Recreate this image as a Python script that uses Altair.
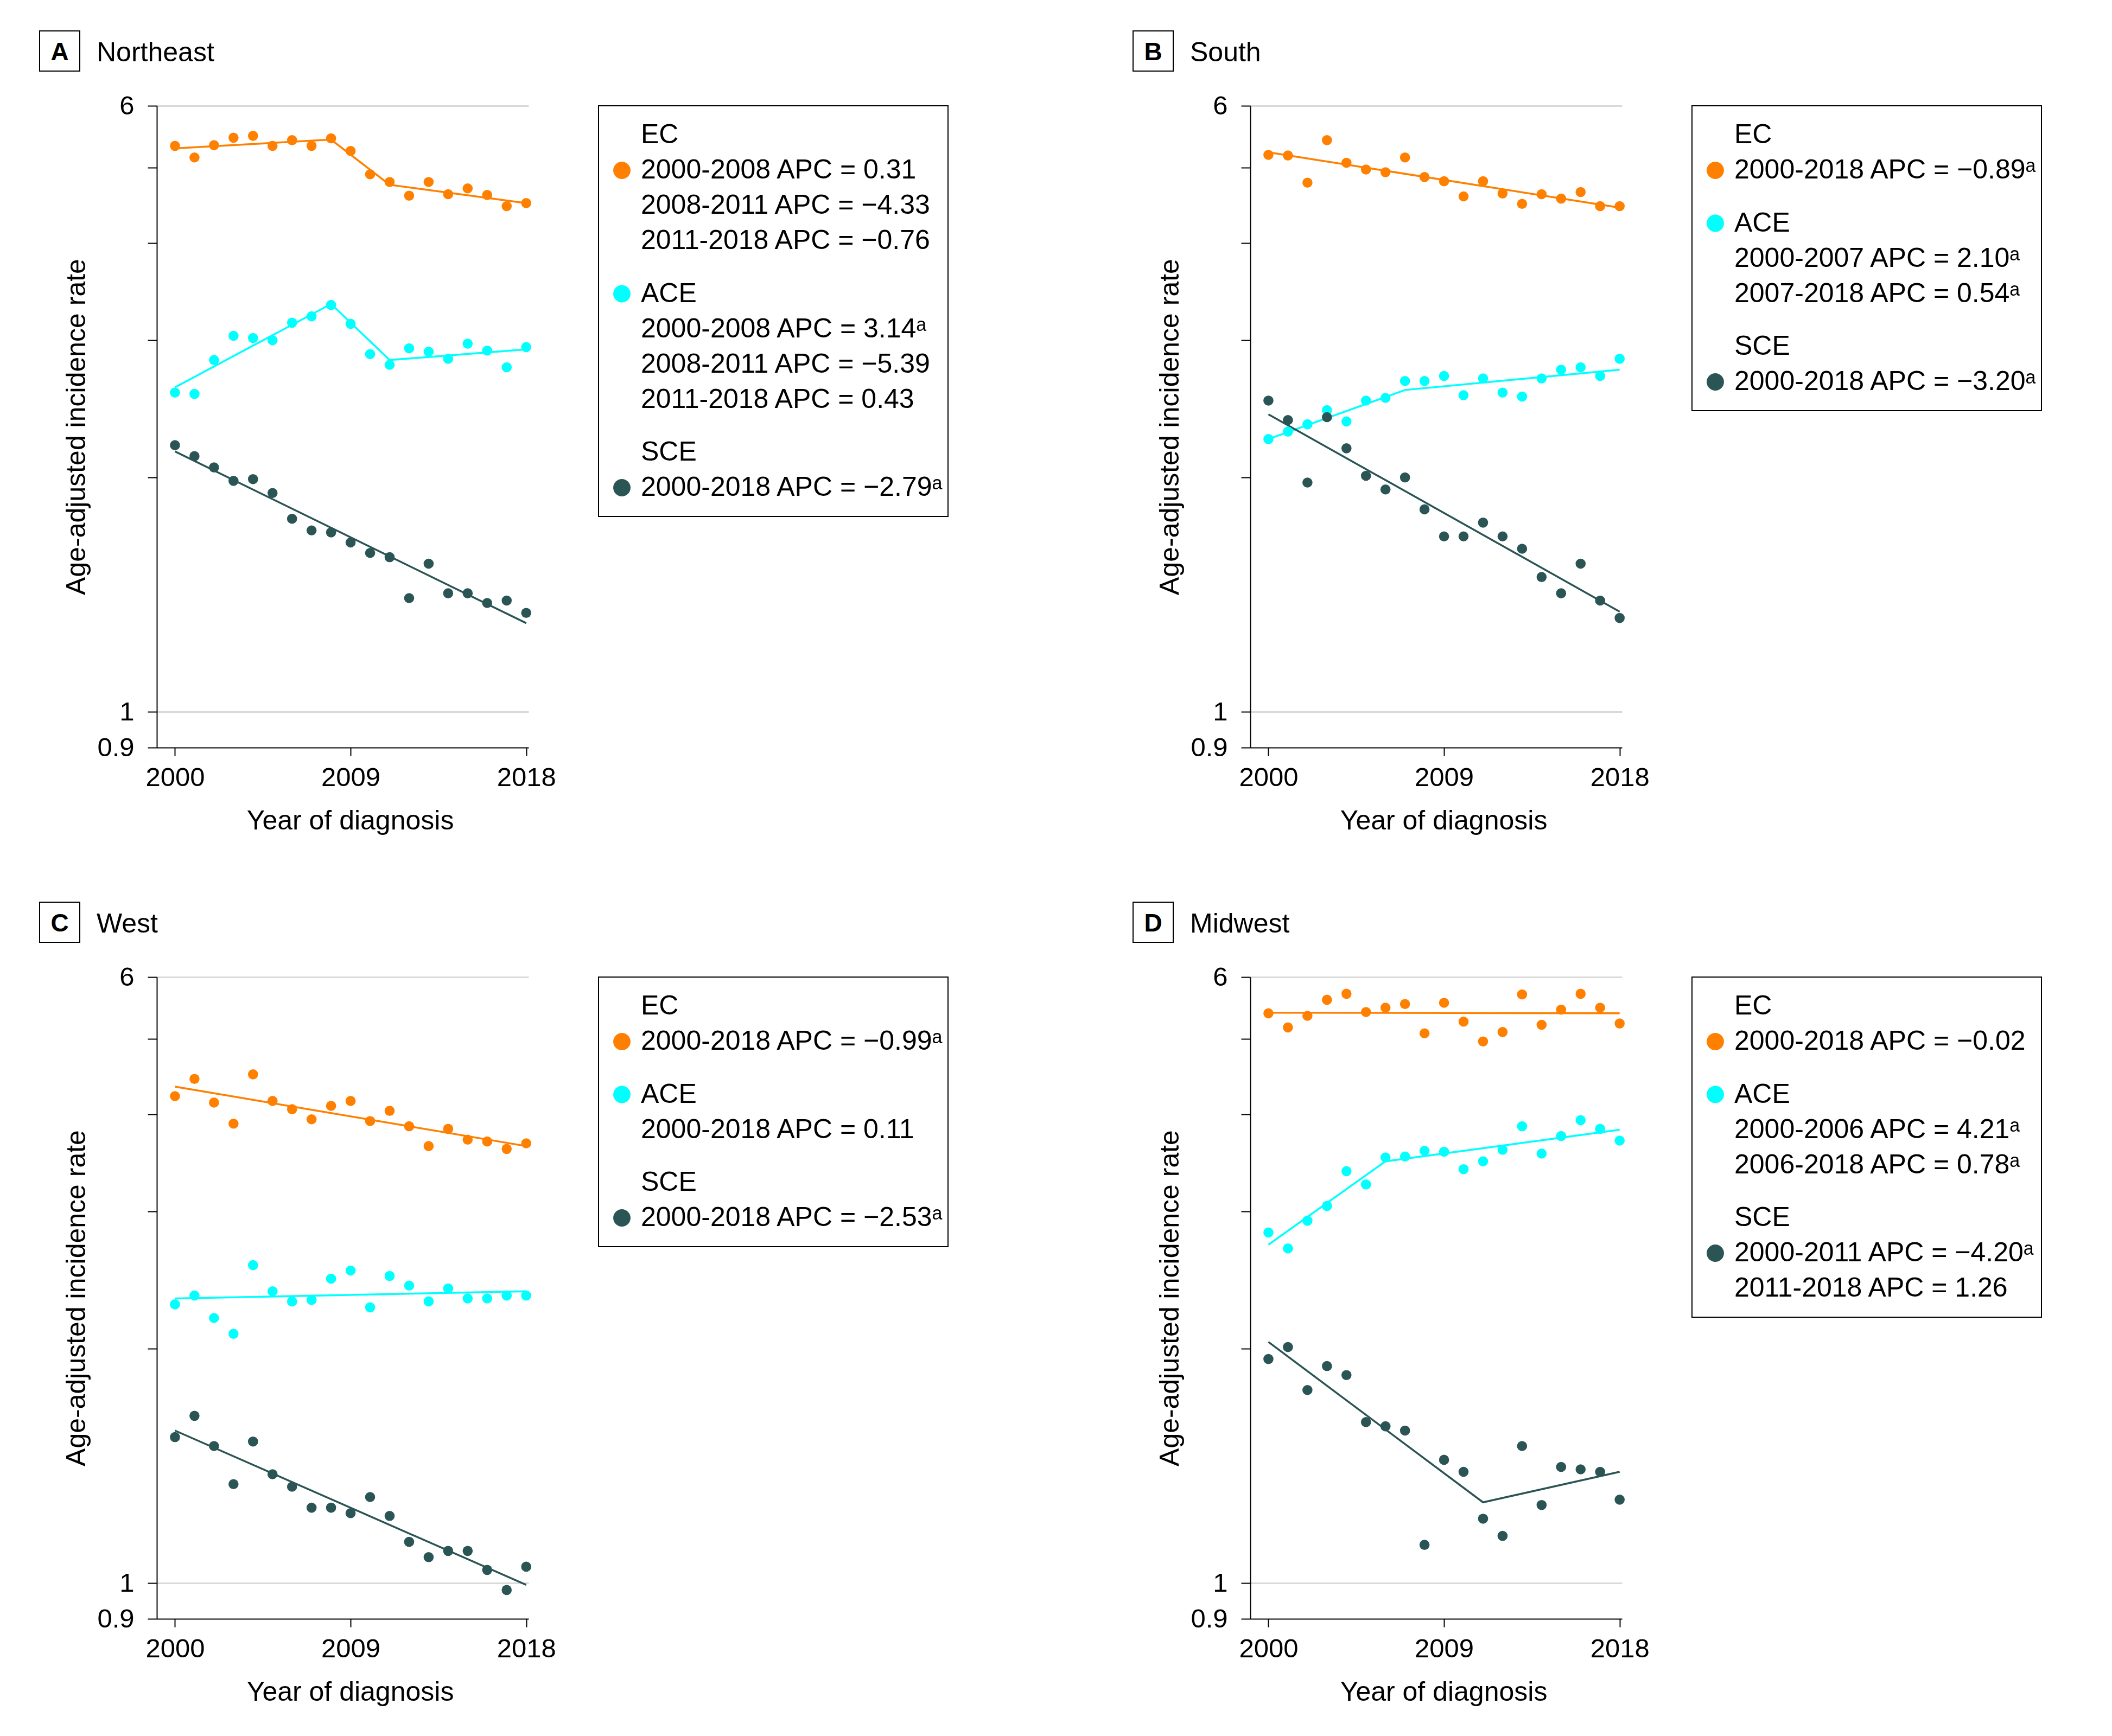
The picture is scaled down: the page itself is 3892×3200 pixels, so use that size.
import altair as alt
import pandas as pd

FONT = "Liberation Sans, Arial, sans-serif"

YEARS = list(range(2000, 2019))
SERIES = ["EC", "ACE", "SCE"]
COLORS = ["#ff8000", "#00ffff", "#2b5555"]

X_TICKS = [2000, 2009, 2018]
X_DOMAIN = [1999.07, 2018.12]
Y_TICKS = [0.9, 1, 2, 3, 4, 5, 6]
Y_LABELED = [0.9, 1, 6]
Y_GRID = [1, 6]
Y_DOMAIN = [0.9, 6]

# ---- observed age-adjusted incidence rates ----
NE_EC = [5.33, 5.15, 5.34, 5.46, 5.49, 5.33, 5.42, 5.33, 5.45, 5.25, 4.90, 4.79, 4.60, 4.79, 4.62, 4.70, 4.61, 4.46, 4.50]
NE_ACE = [2.57, 2.56, 2.83, 3.04, 3.02, 3.00, 3.16, 3.22, 3.33, 3.15, 2.88, 2.79, 2.93, 2.90, 2.84, 2.97, 2.91, 2.77, 2.94]
NE_SCE = [2.20, 2.13, 2.06, 1.98, 1.99, 1.91, 1.77, 1.71, 1.70, 1.65, 1.60, 1.58, 1.40, 1.55, 1.42, 1.42, 1.38, 1.39, 1.34]

SO_EC = [5.19, 5.18, 4.78, 5.42, 5.07, 4.97, 4.93, 5.15, 4.86, 4.80, 4.59, 4.80, 4.63, 4.49, 4.62, 4.56, 4.65, 4.46, 4.46]
SO_ACE = [2.24, 2.29, 2.34, 2.44, 2.36, 2.51, 2.53, 2.66, 2.66, 2.70, 2.55, 2.68, 2.57, 2.54, 2.68, 2.75, 2.77, 2.70, 2.84]
SO_SCE = [2.51, 2.37, 1.97, 2.39, 2.18, 2.01, 1.93, 2.00, 1.82, 1.68, 1.68, 1.75, 1.68, 1.62, 1.49, 1.42, 1.55, 1.39, 1.32]

WE_EC = [4.22, 4.44, 4.14, 3.89, 4.50, 4.16, 4.06, 3.94, 4.10, 4.16, 3.92, 4.04, 3.86, 3.64, 3.83, 3.71, 3.69, 3.61, 3.67]
WE_ACE = [2.28, 2.34, 2.19, 2.09, 2.56, 2.37, 2.30, 2.31, 2.46, 2.52, 2.26, 2.48, 2.41, 2.30, 2.39, 2.32, 2.32, 2.34, 2.34]
WE_SCE = [1.54, 1.64, 1.50, 1.34, 1.52, 1.38, 1.33, 1.25, 1.25, 1.23, 1.29, 1.22, 1.13, 1.08, 1.10, 1.10, 1.04, 0.98, 1.05]

MW_EC = [5.39, 5.17, 5.35, 5.61, 5.71, 5.41, 5.48, 5.54, 5.08, 5.56, 5.26, 4.96, 5.10, 5.70, 5.21, 5.45, 5.71, 5.48, 5.23]
MW_ACE = [2.82, 2.69, 2.92, 3.05, 3.38, 3.25, 3.52, 3.53, 3.59, 3.58, 3.40, 3.48, 3.60, 3.86, 3.56, 3.75, 3.93, 3.83, 3.70]
MW_SCE = [1.94, 2.01, 1.77, 1.90, 1.85, 1.61, 1.59, 1.57, 1.12, 1.44, 1.39, 1.21, 1.15, 1.50, 1.26, 1.41, 1.40, 1.39, 1.28]

# ---- joinpoint fitted lines (vertices at joinpoints) ----
NE_EC_FIT_YEARS = [2000, 2008, 2011, 2018]
NE_EC_FIT = [5.29, 5.43, 4.75, 4.50]
NE_ACE_FIT_YEARS = [2000, 2008, 2011, 2018]
NE_ACE_FIT = [2.61, 3.34, 2.83, 2.92]
NE_SCE_FIT_YEARS = [2000, 2018]
NE_SCE_FIT = [2.16, 1.30]

SO_EC_FIT_YEARS = [2000, 2018]
SO_EC_FIT = [5.23, 4.44]
SO_ACE_FIT_YEARS = [2000, 2007, 2018]
SO_ACE_FIT = [2.24, 2.59, 2.75]
SO_SCE_FIT_YEARS = [2000, 2018]
SO_SCE_FIT = [2.41, 1.345]

WE_EC_FIT_YEARS = [2000, 2018]
WE_EC_FIT = [4.34, 3.64]
WE_ACE_FIT_YEARS = [2000, 2018]
WE_ACE_FIT = [2.32, 2.37]
WE_SCE_FIT_YEARS = [2000, 2018]
WE_SCE_FIT = [1.57, 0.995]

MW_EC_FIT_YEARS = [2000, 2018]
MW_EC_FIT = [5.40, 5.39]
MW_ACE_FIT_YEARS = [2000, 2006, 2018]
MW_ACE_FIT = [2.72, 3.48, 3.82]
MW_SCE_FIT_YEARS = [2000, 2011, 2018]
MW_SCE_FIT = [2.04, 1.27, 1.39]

# ---- legend texts ----
NE_LEG_EC = ["2000-2008 APC = 0.31", "2008-2011 APC = \u22124.33", "2011-2018 APC = \u22120.76"]
NE_LEG_ACE = ["2000-2008 APC = 3.14\u1d43", "2008-2011 APC = \u22125.39", "2011-2018 APC = 0.43"]
NE_LEG_SCE = ["2000-2018 APC = \u22122.79\u1d43"]

SO_LEG_EC = ["2000-2018 APC = \u22120.89\u1d43"]
SO_LEG_ACE = ["2000-2007 APC = 2.10\u1d43", "2007-2018 APC = 0.54\u1d43"]
SO_LEG_SCE = ["2000-2018 APC = \u22123.20\u1d43"]

WE_LEG_EC = ["2000-2018 APC = \u22120.99\u1d43"]
WE_LEG_ACE = ["2000-2018 APC = 0.11"]
WE_LEG_SCE = ["2000-2018 APC = \u22122.53\u1d43"]

MW_LEG_EC = ["2000-2018 APC = \u22120.02"]
MW_LEG_ACE = ["2000-2006 APC = 4.21\u1d43", "2006-2018 APC = 0.78\u1d43"]
MW_LEG_SCE = ["2000-2011 APC = \u22124.20\u1d43", "2011-2018 APC =  1.26"]

# symbol row inside each legend group (EC and SCE on first APC line, ACE on header)
SYMBOL_ROW = {"EC": 1, "ACE": 0, "SCE": 1}

PLOT_W = 685
PLOT_H = 1183
LEG_W = 644
LINE_H = 65

color_enc = alt.Color("series:N", scale=alt.Scale(domain=SERIES, range=COLORS), legend=None)

label_test = " || ".join(f"datum.value == {v}" for v in Y_LABELED)
grid_test = " || ".join(f"datum.value == {v}" for v in Y_GRID)

x_enc = alt.X(
    "year:Q",
    scale=alt.Scale(domain=X_DOMAIN, nice=False, zero=False),
    axis=alt.Axis(
        values=X_TICKS, format="d", title="Year of diagnosis", labelFlush=False,
        tickSize=15, labelPadding=16, titlePadding=30, grid=False, titleX=356,
        labelFontSize=49, titleFontSize=50,
    ),
)
y_enc = alt.Y(
    "rate:Q",
    scale=alt.Scale(type="log", domain=Y_DOMAIN, nice=False),
    axis=alt.Axis(
        values=Y_TICKS, format="~g", labelExpr=f"({label_test}) ? datum.label : ''",
        labelOverlap=False, title="Age-adjusted incidence rate",
        tickSize=17, labelPadding=25, titlePadding=12,
        grid=True, gridColor="#d9d9d9", gridWidth=3,
        gridOpacity={"condition": {"test": grid_test, "value": 1}, "value": 0},
        labelFontSize=49, titleFontSize=50, labelFlush=False,
    ),
)


def panel(letter, region, obs, fits):
    prow = []
    for s in SERIES:
        for yr, v in zip(YEARS, obs[s]):
            prow.append({"series": s, "year": yr, "rate": v})
    frow = []
    for s in SERIES:
        yrs, vals = fits[s]
        for yr, v in zip(yrs, vals):
            frow.append({"series": s, "year": yr, "rate": v})
    pdf = pd.DataFrame(prow)
    fdf = pd.DataFrame(frow)
    lines = alt.Chart(fdf).mark_line(strokeWidth=3.5).encode(x=x_enc, y=y_enc, color=color_enc)
    pts = alt.Chart(pdf).mark_circle(size=346, opacity=1).encode(x=x_enc, y=y_enc, color=color_enc)
    hdr = pd.DataFrame({"letter": [letter], "region": [region]})
    box = alt.Chart(hdr).mark_rect(fillOpacity=0, stroke="black", strokeWidth=2).encode(
        x=alt.value(-216), x2=alt.value(-142), y=alt.value(-138), y2=alt.value(-64)
    )
    let = alt.Chart(hdr).mark_text(
        font=FONT, fontWeight="bold", fontSize=46, align="center", baseline="alphabetic", color="black"
    ).encode(x=alt.value(-179), y=alt.value(-84), text="letter:N")
    name = alt.Chart(hdr).mark_text(
        font=FONT, fontSize=50, align="left", baseline="alphabetic", color="black"
    ).encode(x=alt.value(-111), y=alt.value(-82), text="region:N")
    return alt.layer(lines, pts, box, let, name).properties(width=PLOT_W, height=PLOT_H)


def legend(groups):
    rows, syms = [], []
    pos = 0.0
    for s, lines in groups:
        all_lines = [s] + lines
        for i, t in enumerate(all_lines):
            rows.append({"pos": pos + i, "text": t})
        syms.append({"pos": pos + SYMBOL_ROW[s], "series": s})
        pos += len(all_lines) + 0.5
    last = pos - 1.5
    H = int(round(last * LINE_H + 107))
    lo = -54 / LINE_H
    hi = (H - 54) / LINE_H
    yl = alt.Y("pos:Q", scale=alt.Scale(domain=[lo, hi], reverse=True, nice=False, zero=False), axis=None)
    txt = alt.Chart(pd.DataFrame(rows)).mark_text(
        font=FONT, fontSize=50, align="left", baseline="middle", color="black"
    ).encode(x=alt.value(78), y=yl, text="text:N")
    sym = alt.Chart(pd.DataFrame(syms)).mark_circle(size=1018, opacity=1).encode(
        x=alt.value(43), y=yl, color=color_enc
    )
    return alt.layer(txt, sym).properties(
        width=LEG_W, height=H, view=alt.ViewBackground(stroke="black", strokeWidth=2)
    )


def spacer():
    return alt.Chart(pd.DataFrame({"v": [0]})).mark_point(opacity=0).encode(
        x=alt.X("v:Q", axis=None), y=alt.Y("v:Q", axis=None)
    ).properties(width=299, height=10)


pA = panel("A", "Northeast",
           {"EC": NE_EC, "ACE": NE_ACE, "SCE": NE_SCE},
           {"EC": (NE_EC_FIT_YEARS, NE_EC_FIT), "ACE": (NE_ACE_FIT_YEARS, NE_ACE_FIT), "SCE": (NE_SCE_FIT_YEARS, NE_SCE_FIT)})
pB = panel("B", "South",
           {"EC": SO_EC, "ACE": SO_ACE, "SCE": SO_SCE},
           {"EC": (SO_EC_FIT_YEARS, SO_EC_FIT), "ACE": (SO_ACE_FIT_YEARS, SO_ACE_FIT), "SCE": (SO_SCE_FIT_YEARS, SO_SCE_FIT)})
pC = panel("C", "West",
           {"EC": WE_EC, "ACE": WE_ACE, "SCE": WE_SCE},
           {"EC": (WE_EC_FIT_YEARS, WE_EC_FIT), "ACE": (WE_ACE_FIT_YEARS, WE_ACE_FIT), "SCE": (WE_SCE_FIT_YEARS, WE_SCE_FIT)})
pD = panel("D", "Midwest",
           {"EC": MW_EC, "ACE": MW_ACE, "SCE": MW_SCE},
           {"EC": (MW_EC_FIT_YEARS, MW_EC_FIT), "ACE": (MW_ACE_FIT_YEARS, MW_ACE_FIT), "SCE": (MW_SCE_FIT_YEARS, MW_SCE_FIT)})

lA = legend([("EC", NE_LEG_EC), ("ACE", NE_LEG_ACE), ("SCE", NE_LEG_SCE)])
lB = legend([("EC", SO_LEG_EC), ("ACE", SO_LEG_ACE), ("SCE", SO_LEG_SCE)])
lC = legend([("EC", WE_LEG_EC), ("ACE", WE_LEG_ACE), ("SCE", WE_LEG_SCE)])
lD = legend([("EC", MW_LEG_EC), ("ACE", MW_LEG_ACE), ("SCE", MW_LEG_SCE)])

chart = alt.concat(
    pA, lA, spacer(), pB, lB,
    pC, lC, spacer(), pD, lD,
    columns=5, spacing={"row": 423, "column": 129}, bounds="flush", align="each",
).properties(
    padding={"left": 64, "top": 48, "right": 10, "bottom": 10}
).configure_view(stroke=None).configure_axis(
    labelFont=FONT, titleFont=FONT, labelColor="black", titleColor="black",
    domainColor="black", domainWidth=2, tickColor="black", tickWidth=2,
    titleFontWeight="normal",
)

chart.save("out.html", embed_options={"renderer": "svg", "actions": False})
